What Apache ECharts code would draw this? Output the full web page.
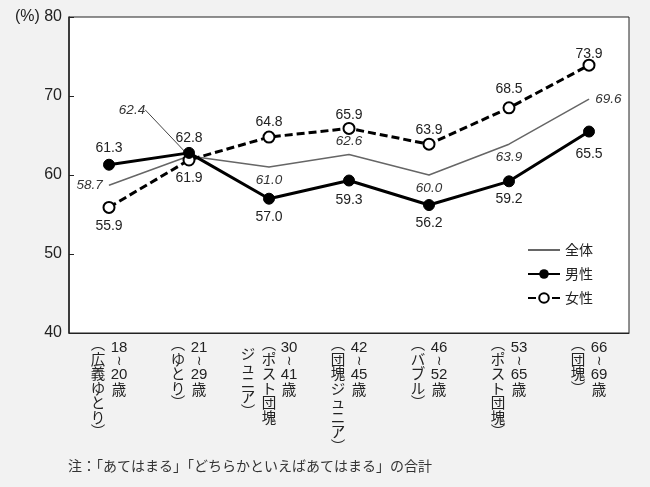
<!DOCTYPE html>
<html><head><meta charset="utf-8">
<script src="https://cdn.jsdelivr.net/npm/echarts@6/dist/echarts.min.js"></script>
<style>html,body{margin:0;padding:0;background:#f2f2f2}#c{width:650px;height:487px}</style>
</head><body><div id="c"></div>
<script>
const ageFrom = ['18','21','30','42','46','53','66'];
const ageTo = ['20','29','41','45','52','65','69'];
const nicknames = [['広義ゆとり'],['ゆとり'],['ポスト団塊','ジュニア'],['団塊ジュニア'],['バブル'],['ポスト団塊'],['団塊']];
const categories = ageFrom.map((f,i)=>f+'~'+ageTo[i]+'歳');
const totalVals = [58.7, 62.4, 61.0, 62.6, 60.0, 63.9, 69.6];
const maleVals = [61.3, 62.8, 57.0, 59.3, 56.2, 59.2, 65.5];
const femaleVals = [55.9, 61.9, 64.8, 65.9, 63.9, 68.5, 73.9];
const yTicks = [40, 50, 60, 70, 80];
const noteText = '注：「あてはまる」「どちらかといえばあてはまる」の合計';

// label placement (style only)
const totalLabelPos = [
  {position:'left', offset:[0,4]},
  {position:'top'},
  {position:'bottom', offset:[0,-2]},
  {position:'top', offset:[0,7]},
  {position:'bottom', offset:[0,-3]},
  {position:'bottom', offset:[0,-2]},
  {position:'right', offset:[0,-6]}
];
const maleLabelPos = [
  {position:'top', offset:[0,1]},
  {position:'top', offset:[0,3]},
  {position:'bottom', offset:[0,0]},
  {position:'bottom', offset:[0,2]},
  {position:'bottom', offset:[0,0]},
  {position:'bottom', offset:[0,0]},
  {position:'bottom', offset:[0,5]}
];
const femaleLabelPos = [
  {position:'bottom', offset:[0,0]},
  {position:'bottom', offset:[0,0]},
  {position:'top', offset:[0,4]},
  {position:'top', offset:[0,5]},
  {position:'top', offset:[0,4]},
  {position:'top', offset:[0,0]},
  {position:'top', offset:[0,7]}
];

// vertical-writing label columns
const isWide = i => nicknames[i].length > 1;
function ageColumn(i){ return [ageFrom[i], '≀', ageTo[i], '歳']; }
function nickBody(i, part){
  const parts = nicknames[i];
  if(part >= parts.length) return [];
  return Array.from(parts[part] + (part===parts.length-1?'︶':''));
}
function sname(s){ return s<0 ? 'm'+(-s) : 's'+s; }
function tok(ch, shift){
  const isParen = ch==='︵' || ch==='︶';
  const isWave = ch==='≀';
  const isDigit = /^[0-9]+$/.test(ch);
  const base = isParen ? 'p' : isWave ? 'w' : isDigit ? 'd' : 'k';
  return '{'+base+sname(shift)+'|'+ch+'}';
}
function colText(chars, shift){ return chars.map(c=>tok(c, shift)).join('\n'); }
function richFor(shifts){
  const r = {};
  const styles = {
    d:{fontSize:15, lineHeight:14, fontFamily:'Liberation Sans, Arial, sans-serif'},
    w:{fontSize:13, lineHeight:13, fontFamily:'DejaVu Sans'},
    k:{fontSize:14.5, lineHeight:14.5, fontFamily:'Noto Sans CJK JP'},
    p:{fontSize:14.5, lineHeight:14.5, fontFamily:'Noto Sans CJK JP'}
  };
  shifts.forEach(s=>{
    Object.keys(styles).forEach(b=>{
      const pad = s>=0 ? [0,0,0,2*s] : [0,-2*s,0,0];
      r[b+sname(s)] = Object.assign({color:'#222', align:'center', padding:pad}, styles[b]);
    });
  });
  return r;
}

const labelAxisBase = {
  type:'category', data:categories, boundaryGap:true, position:'bottom',
  axisLine:{show:false}, axisTick:{show:false}, splitLine:{show:false}
};
function labelAxis(margin, fn, shifts){
  return Object.assign({}, labelAxisBase, {axisLabel:{margin:margin, interval:0, formatter:fn, rich:richFor(shifts)}});
}

const chart = echarts.init(document.getElementById('c'));
const lbl = {color:'#222', fontSize:14, fontFamily:'Liberation Sans, Arial, sans-serif'};
chart.setOption({
  backgroundColor:'#f2f2f2',
  animation:false,
  grid:{left:69, right:21, top:17, bottom:154, show:true, backgroundColor:'#ffffff', borderColor:'#222', borderWidth:1},
  legend:{
    orient:'vertical', left:522, top:238, itemWidth:32, itemHeight:12, itemGap:10,
    textStyle:{fontSize:14, color:'#222', fontFamily:'Noto Sans CJK JP'},
    data:[
      {name:'全体', itemStyle:{color:'rgba(0,0,0,0)', borderColor:'rgba(0,0,0,0)', borderWidth:0}},
      '男性','女性'
    ]
  },
  xAxis:[
    {
      type:'category', data:categories, boundaryGap:true, position:'bottom',
      axisLine:{lineStyle:{color:'#222', width:1}},
      axisTick:{inside:true, length:5, lineStyle:{color:'#222'}},
      axisLabel:{margin:8, interval:0, formatter:(v,i)=>colText(ageColumn(i), isWide(i)?20:10), rich:richFor([10,20])}
    },
    labelAxis(3, (v,i)=>colText(['︵'], isWide(i)?0:-11), [0,-11]),
    labelAxis(19, (v,i)=>colText(nickBody(i,0), isWide(i)?0:-11), [0,-11]),
    labelAxis(13, (v,i)=>{ const c = nickBody(i,1); return c.length ? colText(c, -21) : ''; }, [-21])
  ],
  yAxis:{
    type:'value', min:40, max:80, interval:10,
    axisLine:{show:true, lineStyle:{color:'#222', width:1.5}},
    axisTick:{show:true, inside:true, length:5, lineStyle:{color:'#222'}},
    splitLine:{show:false},
    axisLabel:{
      fontSize:16, color:'#222', margin:7, fontFamily:'Liberation Sans, Arial, sans-serif',
      formatter:v=> (yTicks.includes(v) ? (v===80 ? '(%) 80' : String(v)) : '')
    }
  },
  series:[
    {
      name:'全体', type:'line', xAxisIndex:0, data:totalVals.map((v,i)=>{
        const d={value:v, label:totalLabelPos[i]};
        if(i===1) d.labelLine={show:true, lineStyle:{color:'#444', width:1}};
        return d;
      }),
      symbol:'circle', symbolSize:0.5, showSymbol:true, z:1,
      lineStyle:{color:'#666', width:1.5}, itemStyle:{color:'#666'},
      label:{show:true, ...lbl, fontSize:13.5, fontStyle:'italic', color:'#333', distance:6, formatter:p=>p.value.toFixed(1)},
      labelLayout:p=> p.dataIndex===1 ? {dx:-57, dy:-33} : {}
    },
    {
      name:'男性', type:'line', xAxisIndex:0, data:maleVals.map((v,i)=>({value:v, label:maleLabelPos[i]})),
      symbol:'circle', symbolSize:11, z:3,
      lineStyle:{color:'#000', width:3}, itemStyle:{color:'#000', borderColor:'#000'},
      label:{show:true, ...lbl, distance:5, formatter:p=>p.value.toFixed(1)}
    },
    {
      name:'女性', type:'line', xAxisIndex:0, data:femaleVals.map((v,i)=>({value:v, label:femaleLabelPos[i]})),
      symbol:'circle', symbolSize:11, z:2,
      lineStyle:{color:'#000', width:3, type:[8,4]}, itemStyle:{color:'#fff', borderColor:'#000', borderWidth:2},
      label:{show:true, ...lbl, distance:5, formatter:p=>p.value.toFixed(1)}
    }
  ],
  graphic:[{
    type:'text', left:68, top:459,
    style:{text:noteText, fontSize:14, fill:'#333', fontFamily:'Noto Sans CJK JP'}
  }]
});
</script></body></html>
